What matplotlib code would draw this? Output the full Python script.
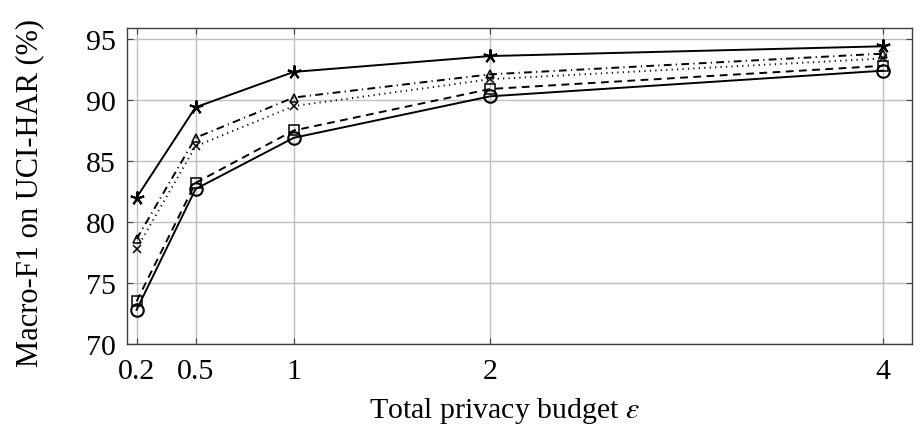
import matplotlib
matplotlib.use('Agg')
import matplotlib.pyplot as plt

plt.rcParams['font.family'] = ['Liberation Serif', 'DejaVu Serif']
plt.rcParams['mathtext.fontset'] = 'stix'

# budgets epsilon
budgets = [0.2, 0.5, 1, 2, 4]

# Macro-F1 per method
f1_star = [82.0, 89.4, 92.3, 93.6, 94.4]
f1_diamond = [78.6, 86.9, 90.2, 92.1, 93.8]
f1_dotted = [77.8, 86.2, 89.5, 91.7, 93.4]
f1_square = [73.5, 83.2, 87.5, 90.9, 92.8]
f1_circle = [72.8, 82.7, 86.9, 90.3, 92.4]

xticks = [0.2, 0.5, 1, 2, 4]
xticklabels = ['0.2', '0.5', '1', '2', '4']
yticks = [70, 75, 80, 85, 90, 95]

fig = plt.figure(figsize=(9.22, 4.39), dpi=100)
ax = fig.add_axes([0.1377, 0.2141, 0.8511, 0.7199])

lw = 1.4
ax.plot(budgets, f1_star, color='black', lw=lw, linestyle='-',
        marker=(5, 2, 0), markersize=10, markeredgewidth=1.5, zorder=5)
ax.plot(budgets, f1_diamond, color='black', lw=lw, linestyle=(0, (4, 2.2, 0.6, 2.2)),
        marker='^', markersize=6, markerfacecolor='none', markeredgewidth=1.1, zorder=4)
ax.plot(budgets, f1_dotted, color='black', lw=lw, linestyle=(0, (0.6, 2.2)),
        marker='x', markersize=6, markeredgewidth=1.1, zorder=4)
ax.plot(budgets, f1_square, color='black', lw=lw, linestyle=(0, (4, 2.8)),
        marker='s', markersize=7, markerfacecolor='none', markeredgewidth=1.1, zorder=4)
ax.plot(budgets, f1_circle, color='black', lw=lw, linestyle='-',
        marker='o', markersize=9, markerfacecolor='none', markeredgewidth=1.5, zorder=5)

ax.set_xlim(0.151, 4.145)
ax.set_ylim(70, 95.9)
ax.set_xticks(xticks)
ax.set_xticklabels(xticklabels)
ax.set_yticks(yticks)
ax.grid(True, color='#bfbfbf', linewidth=1.0)
ax.set_axisbelow(True)
ax.tick_params(direction='in', length=4, width=0.8, labelsize=21.5,
               top=True, right=True, color='#404040')
ax.tick_params(axis='x', pad=10)
ax.tick_params(axis='y', pad=8)
for s in ax.spines.values():
    s.set_color('#404040')
    s.set_linewidth(1.0)

ax.set_xlabel(r'Total privacy budget $\epsilon$', fontsize=21.5, labelpad=8)
ax.set_ylabel('Macro-F1 on UCI-HAR (%)', fontsize=22, labelpad=30)
ax.xaxis.label.set_x(0.4815)
ax.yaxis.label.set_y(0.48)

fig.savefig('out.png', dpi=100)
